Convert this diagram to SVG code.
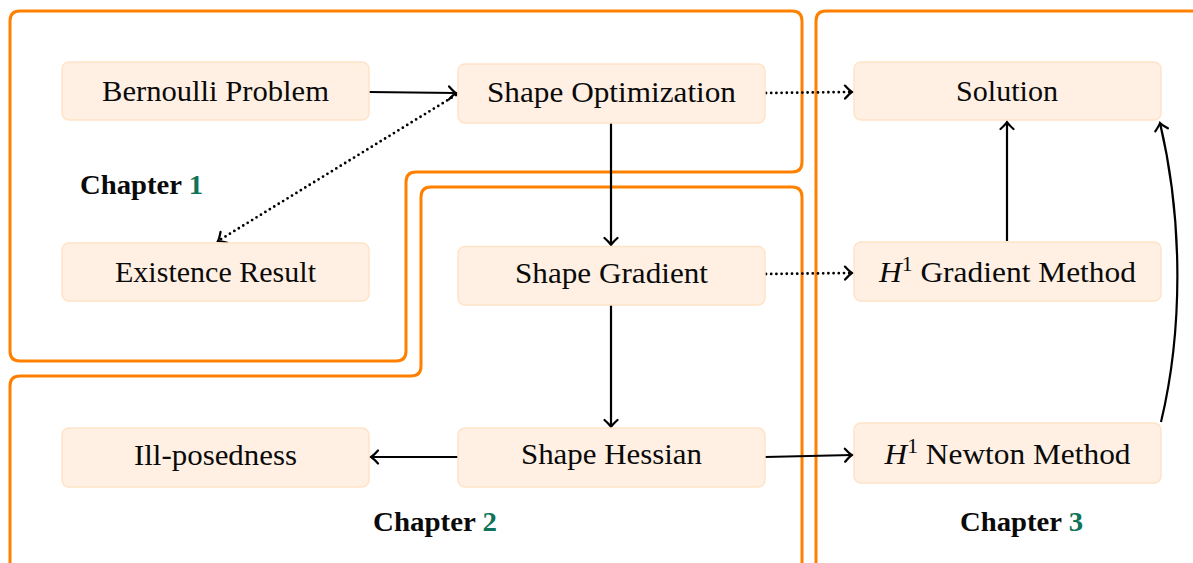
<svg xmlns="http://www.w3.org/2000/svg" width="1193" height="563" viewBox="0 0 1193 563">
<style>
.bg{fill:#ffffff}
.chap{fill:none;stroke:#ff8000;stroke-width:3}
.node rect{fill:#fff0e3;stroke:#ffe3c8;stroke-width:1.5}
.node text,.lbl{font-family:"Liberation Serif","DejaVu Serif",serif;font-size:29px;fill:#0a0a0a;text-anchor:middle}
.lbl{font-weight:bold;font-size:28px;text-anchor:start}
.num{fill:#0f7358}
.solid{fill:none;stroke:#000;stroke-width:2.2}
.dot{fill:none;stroke:#000;stroke-width:2.8;stroke-dasharray:0 5.2;stroke-linecap:round}
</style>
<defs>
<marker id="ah" markerWidth="16" markerHeight="16" refX="0" refY="0" viewBox="-10 -8 12 16" orient="auto" markerUnits="userSpaceOnUse">
<path d="M -7 -6.5 Q -2.5 -1.5 0 0 Q -2.5 1.5 -7 6.5" fill="none" stroke="#000" stroke-width="2.2" stroke-linecap="round"/>
</marker>
</defs>
<rect class="bg" x="0" y="0" width="1193" height="563"/>
<g id="chapters">
<path id="chapter1-box" class="chap" d="M 20 11 L 792 11 Q 802 11 802 21 L 802 162 Q 802 172 792 172 L 416 172 Q 406 172 406 182 L 406 351 Q 406 361 396 361 L 20 361 Q 10 361 10 351 L 10 21 Q 10 11 20 11 Z"/>
<path id="chapter2-box" class="chap" d="M 802 580 L 802 197 Q 802 187 792 187 L 431 187 Q 421 187 421 197 L 421 366 Q 421 376 411 376 L 20 376 Q 10 376 10 386 L 10 580"/>
<path id="chapter3-box" class="chap" d="M 816 580 L 816 21 Q 816 11 826 11 L 1200 11"/>
</g>
<g id="connectors">
<path class="solid" d="M 369 92 L 456 93" marker-end="url(#ah)"/>
<path class="dot" d="M 766 93 L 852 92" marker-end="url(#ah)"/>
<path class="dot" d="M 456 95 L 218 241" marker-end="url(#ah)"/>
<path class="solid" d="M 611 123 L 611 245" marker-end="url(#ah)"/>
<path class="dot" d="M 766 274 L 852 273" marker-end="url(#ah)"/>
<path class="solid" d="M 611 305 L 611 427" marker-end="url(#ah)"/>
<path class="solid" d="M 458 457 L 371 457" marker-end="url(#ah)"/>
<path class="solid" d="M 765 457 L 852 455" marker-end="url(#ah)"/>
<path class="solid" d="M 1007 241 L 1007 122" marker-end="url(#ah)"/>
<path class="solid" d="M 1161 422 C 1183 330 1183 220 1160 123" marker-end="url(#ah)"/>
</g>
<g id="bernoulli" class="node"><rect x="62" y="62" width="307" height="58" rx="7"/><text x="215.5" y="101" textLength="227" lengthAdjust="spacingAndGlyphs">Bernoulli Problem</text></g>
<g id="shape-optimization" class="node"><rect x="458" y="64" width="307" height="59" rx="7"/><text x="611.5" y="102" textLength="249" lengthAdjust="spacingAndGlyphs">Shape Optimization</text></g>
<g id="solution" class="node"><rect x="854" y="62" width="307" height="58" rx="7"/><text x="1007" y="101" textLength="102" lengthAdjust="spacingAndGlyphs">Solution</text></g>
<g id="existence" class="node"><rect x="62" y="243" width="307" height="58" rx="7"/><text x="215.5" y="282" textLength="201" lengthAdjust="spacingAndGlyphs">Existence Result</text></g>
<g id="shape-gradient" class="node"><rect x="458" y="246.5" width="307" height="58.5" rx="7"/><text x="611.5" y="283" textLength="193" lengthAdjust="spacingAndGlyphs">Shape Gradient</text></g>
<g id="h1-gradient" class="node"><rect x="854" y="242" width="307" height="59" rx="7"/><text x="1007.5" y="282" textLength="257" lengthAdjust="spacingAndGlyphs"><tspan font-style="italic">H</tspan><tspan dy="-11" font-size="20">1</tspan><tspan dy="11"> Gradient Method</tspan></text></g>
<g id="ill-posedness" class="node"><rect x="62" y="428" width="307" height="59" rx="7"/><text x="215.5" y="465" textLength="163" lengthAdjust="spacingAndGlyphs">Ill-posedness</text></g>
<g id="shape-hessian" class="node"><rect x="458" y="428" width="307" height="59" rx="7"/><text x="611.5" y="464" textLength="181" lengthAdjust="spacingAndGlyphs">Shape Hessian</text></g>
<g id="h1-newton" class="node"><rect x="854" y="423" width="307" height="60" rx="7"/><text x="1007.5" y="464" textLength="246" lengthAdjust="spacingAndGlyphs"><tspan font-style="italic">H</tspan><tspan dy="-11" font-size="20">1</tspan><tspan dy="11"> Newton Method</tspan></text></g>
<g id="chapter-labels">
<text class="lbl" x="80" y="194" textLength="123" lengthAdjust="spacingAndGlyphs">Chapter <tspan class="num">1</tspan></text>
<text class="lbl" x="373" y="531" textLength="124" lengthAdjust="spacingAndGlyphs">Chapter <tspan class="num">2</tspan></text>
<text class="lbl" x="960" y="531" textLength="123" lengthAdjust="spacingAndGlyphs">Chapter <tspan class="num">3</tspan></text>
</g>
</svg>
